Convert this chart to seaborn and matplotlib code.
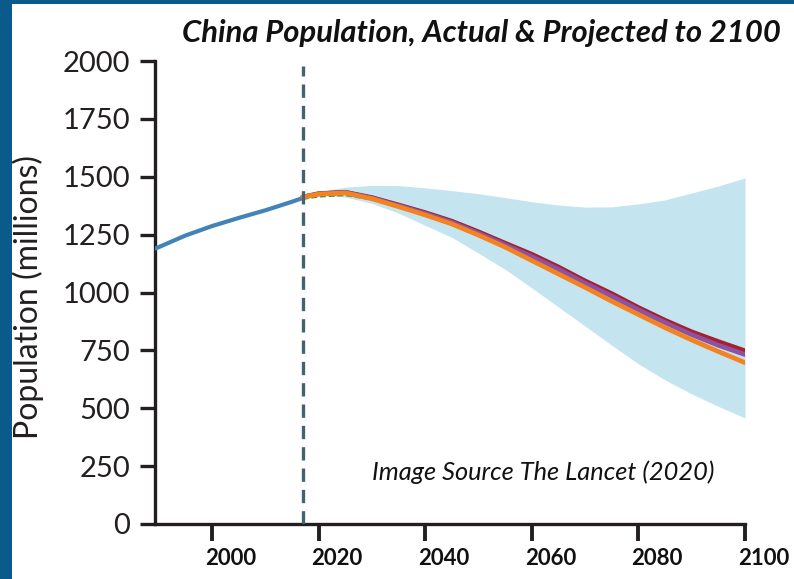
import matplotlib
matplotlib.use("Agg")
import matplotlib.pyplot as plt
import matplotlib.transforms as mtransforms
from matplotlib.patches import Rectangle
import seaborn as sns
import pandas as pd

# Historical population (millions)
hist_years = [1989.3, 1990, 1995, 2000, 2005, 2010, 2015, 2017]
hist_pop = [1190, 1196, 1246, 1287, 1322, 1355, 1392, 1408]

# Projection years and scenarios (millions)
proj_years = [2017, 2020, 2025, 2030, 2035, 2040, 2045, 2050, 2055,
              2060, 2065, 2070, 2075, 2080, 2085, 2090, 2095, 2100]
reference = [1412, 1425, 1430, 1405, 1371, 1335, 1296, 1248, 1196,
             1138, 1080, 1022, 962, 905, 848, 795, 745, 697]
scenario_red = [1412, 1427, 1433, 1410, 1378, 1345, 1308, 1262, 1213,
                1165, 1110, 1050, 995, 935, 880, 830, 788, 748]
scenario_purple = [1412, 1426, 1432, 1408, 1375, 1341, 1303, 1256, 1206,
                   1155, 1100, 1040, 984, 925, 870, 818, 772, 732]
scenario_green = [1404, 1414, 1420, 1402, 1368, 1332, 1293, 1245, 1193,
                  1135, 1077, 1019, 959, 902, 845, 792, 742, 694]
band_lower = [1412, 1420, 1412, 1385, 1343, 1290, 1238, 1170, 1100,
              1020, 937, 855, 772, 692, 622, 562, 508, 458]
band_upper = [1412, 1436, 1455, 1463, 1462, 1452, 1440, 1427, 1410,
              1392, 1378, 1369, 1370, 1383, 1400, 1430, 1460, 1495]

x_ticks = [2000, 2020, 2040, 2060, 2080, 2100]
y_ticks = [0, 250, 500, 750, 1000, 1250, 1500, 1750, 2000]
divider_year = 2017

sns.set_theme(style="white")
plt.rcParams["font.family"] = ["Lato", "DejaVu Sans"]

W, H = 794, 579
fig = plt.figure(figsize=(W / 100, H / 100), dpi=100)
fig.patch.set_facecolor("#0b5a8c")
# white card over the blue frame
fig.patches.append(Rectangle((12 / W, 0), 1 - 12 / W, 1 - 4 / H,
                             transform=fig.transFigure, facecolor="white",
                             edgecolor="none", zorder=-5))

ax = fig.add_axes([155 / W, 55 / H, (745 - 155) / W, (524 - 61) / H])
ax.set_zorder(2)
ax.set_facecolor("none")

proj = pd.DataFrame({"year": proj_years, "lower": band_lower, "upper": band_upper})
ax.fill_between(proj["year"], proj["lower"], proj["upper"],
                color="#c4e5f0", linewidth=0, zorder=1)

hist = pd.DataFrame({"year": hist_years, "pop": hist_pop})
sns.lineplot(data=hist, x="year", y="pop", ax=ax, color="#4483b8",
             linewidth=3.0, zorder=3)

sns.lineplot(x=proj_years, y=scenario_red, ax=ax, color="#a6212f",
             linewidth=3.4, zorder=3)
sns.lineplot(x=proj_years, y=scenario_purple, ax=ax, color="#8d52a1",
             linewidth=3.4, zorder=4)
sns.lineplot(x=proj_years, y=scenario_green, ax=ax, color="#3e9b45",
             linewidth=1.4, linestyle=(0, (3, 1.5)), zorder=4)
sns.lineplot(x=proj_years, y=reference, ax=ax, color="#f4831f",
             linewidth=3.4, zorder=5)

ax.axvline(divider_year, ymin=0, ymax=0.99, color="#44636f", linewidth=2.4,
           linestyle=(0, (4, 2.4)), zorder=6)

ax.set_xlim(1989.3, 2100)
ax.set_ylim(0, 2000)
ax.set_xticks(x_ticks)
ax.set_yticks(y_ticks)
ax.set_xlabel("")
ax.set_ylabel("")

for side in ("top", "right"):
    ax.spines[side].set_visible(False)
for side in ("left", "bottom"):
    ax.spines[side].set_color("#231f20")
    ax.spines[side].set_linewidth(2.4)

ax.tick_params(axis="y", direction="out", length=11, width=2.4,
               color="#231f20", pad=7, left=True)
ax.tick_params(axis="x", direction="out", length=12, width=2.8,
               color="#231f20", pad=5, bottom=True)

ax.set_yticklabels([str(v) for v in y_ticks], fontsize=21,
                   fontweight="normal", color="#231f20")
ax.set_xticklabels([str(v) for v in x_ticks], fontsize=16,
                   fontweight="bold", color="#111111")
shift = mtransforms.ScaledTranslation(-7 / 100, 0, fig.dpi_scale_trans)
for lbl in ax.get_xticklabels():
    lbl.set_horizontalalignment("left")
    lbl.set_transform(lbl.get_transform() + shift)

fig.text(481 / W, 1 - 33 / H, "China Population, Actual & Projected to 2100",
         ha="center", va="center", fontsize=22.3, fontweight="bold",
         fontstyle="italic", color="#111111")
fig.text(28 / W, 1 - 297 / H, "Population (millions)", rotation=90,
         ha="center", va="center", fontsize=23, fontweight="normal",
         color="#231f20")
fig.text(372 / W, 1 - 472 / H, "Image Source The Lancet (2020)",
         ha="left", va="center", fontsize=18.3, fontstyle="italic",
         color="#111111")

fig.savefig("out.png", dpi=100, facecolor=fig.get_facecolor())
